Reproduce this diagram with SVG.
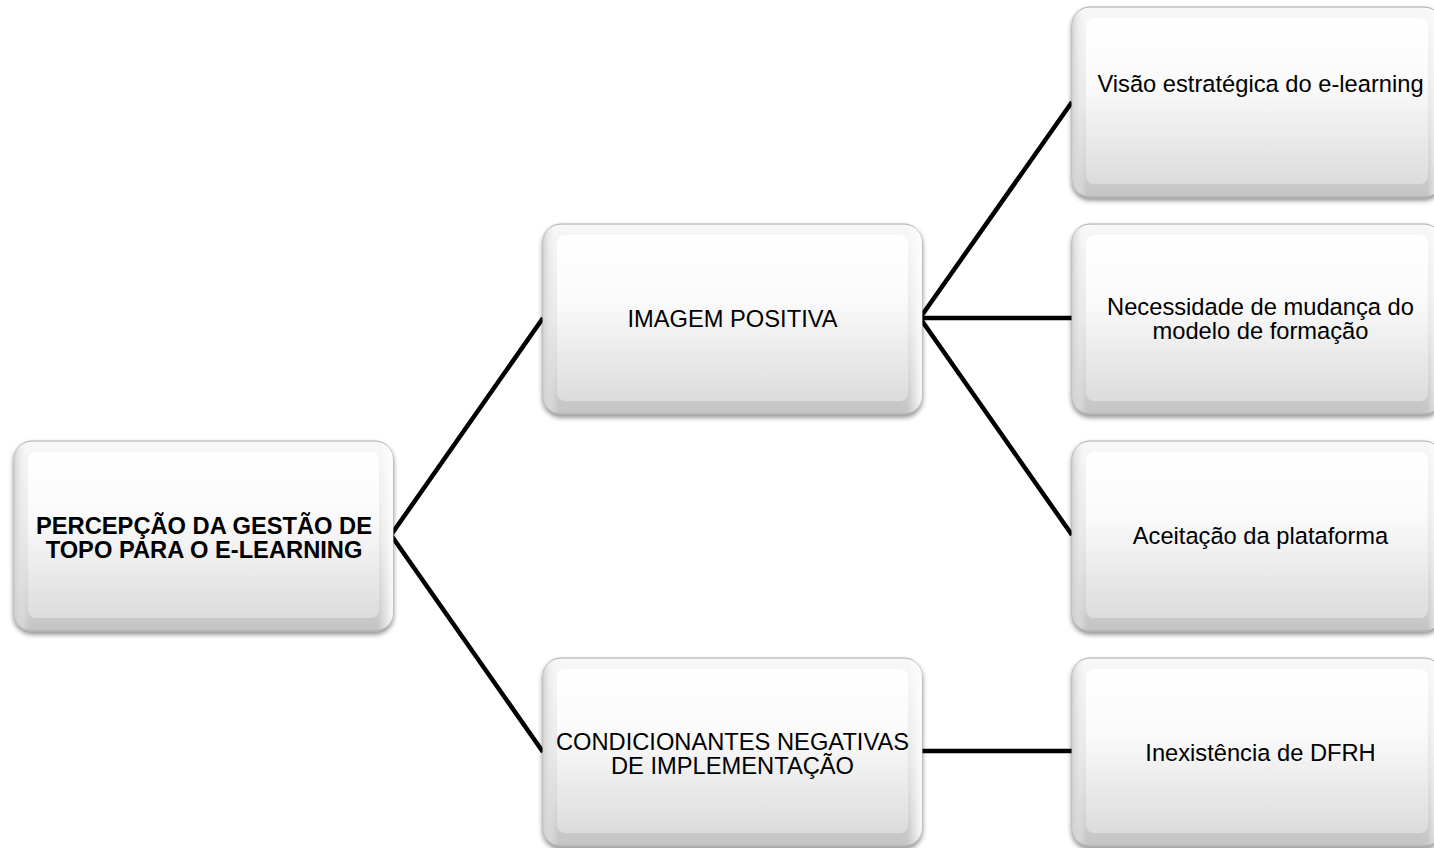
<svg xmlns="http://www.w3.org/2000/svg" width="1434" height="848" viewBox="0 0 1434 848">
<defs>
<linearGradient id="outerG" x1="0" y1="0" x2="0" y2="1">
<stop offset="0" stop-color="#f8f8f8"/>
<stop offset="0.5" stop-color="#e6e6e6"/>
<stop offset="1" stop-color="#c4c4c4"/>
</linearGradient>
<linearGradient id="sideG" x1="0" y1="0" x2="1" y2="0">
<stop offset="0" stop-color="#d0d0d0" stop-opacity="0.9"/>
<stop offset="0.04" stop-color="#ffffff" stop-opacity="0"/>
<stop offset="0.96" stop-color="#ffffff" stop-opacity="0"/>
<stop offset="1" stop-color="#ffffff" stop-opacity="0.9"/>
</linearGradient>
<linearGradient id="innerG" x1="0" y1="0" x2="0" y2="1">
<stop offset="0" stop-color="#ffffff"/>
<stop offset="0.4" stop-color="#fafafa"/>
<stop offset="1" stop-color="#dcdcdc"/>
</linearGradient>
<filter id="shadow" x="-10%" y="-10%" width="120%" height="130%">
<feDropShadow dx="0" dy="3" stdDeviation="2.5" flood-color="#000" flood-opacity="0.45"/>
</filter>
</defs>
<style>
.outer{fill:url(#outerG);stroke:#a8a8a8;stroke-width:1;filter:url(#shadow)}
.side{fill:url(#sideG)}
.inner{fill:url(#innerG)}
.t{font-family:"Liberation Sans",Arial,sans-serif;font-size:23.7px;fill:#000;text-anchor:middle}
.b{font-weight:bold}
.conn{fill:none;stroke:#000;stroke-width:4.5;stroke-linejoin:miter}
</style>
<rect width="1434" height="848" fill="#fff"/>
<g id="connectors">
<path class="conn" d="M543,318 L391,535 L543,752"/>
<path class="conn" d="M1072,102 L920,318 L1072,535"/>
<path class="conn" d="M920,318 L1072,318"/>
<path class="conn" d="M922,751 L1072,751"/>
</g>
<g id="root">
<rect class="outer" x="14" y="441" width="379" height="190" rx="18"/>
<rect class="side" x="14" y="441" width="379" height="190" rx="18"/>
<rect class="inner" x="28" y="452" width="351" height="166" rx="8"/>
<text class="t b" x="204" y="534">PERCEPÇÃO DA GESTÃO DE</text>
<text class="t b" x="204" y="558">TOPO PARA O E-LEARNING</text>
</g>
<g id="imagem">
<rect class="outer" x="543" y="224" width="379" height="190" rx="18"/>
<rect class="side" x="543" y="224" width="379" height="190" rx="18"/>
<rect class="inner" x="557" y="235" width="351" height="166" rx="8"/>
<text class="t" x="732.5" y="327">IMAGEM POSITIVA</text>
</g>
<g id="condicionantes">
<rect class="outer" x="543" y="658" width="379" height="188" rx="18"/>
<rect class="side" x="543" y="658" width="379" height="188" rx="18"/>
<rect class="inner" x="557" y="669" width="351" height="164" rx="8"/>
<text class="t" x="732.5" y="750">CONDICIONANTES NEGATIVAS</text>
<text class="t" x="732.5" y="774">DE IMPLEMENTAÇÃO</text>
</g>
<g id="visao">
<rect class="outer" x="1072" y="7" width="370" height="190" rx="18"/>
<rect class="side" x="1072" y="7" width="370" height="190" rx="18"/>
<rect class="inner" x="1086" y="18" width="342" height="166" rx="8"/>
<text class="t" x="1260.5" y="92">Visão estratégica do e-learning</text>
</g>
<g id="necessidade">
<rect class="outer" x="1072" y="224" width="370" height="190" rx="18"/>
<rect class="side" x="1072" y="224" width="370" height="190" rx="18"/>
<rect class="inner" x="1086" y="235" width="342" height="166" rx="8"/>
<text class="t" x="1260.5" y="315">Necessidade de mudança do</text>
<text class="t" x="1260.5" y="339">modelo de formação</text>
</g>
<g id="aceitacao">
<rect class="outer" x="1072" y="441" width="370" height="190" rx="18"/>
<rect class="side" x="1072" y="441" width="370" height="190" rx="18"/>
<rect class="inner" x="1086" y="452" width="342" height="166" rx="8"/>
<text class="t" x="1260.5" y="544">Aceitação da plataforma</text>
</g>
<g id="inexistencia">
<rect class="outer" x="1072" y="658" width="370" height="188" rx="18"/>
<rect class="side" x="1072" y="658" width="370" height="188" rx="18"/>
<rect class="inner" x="1086" y="669" width="342" height="164" rx="8"/>
<text class="t" x="1260.5" y="761">Inexistência de DFRH</text>
</g>
</svg>
